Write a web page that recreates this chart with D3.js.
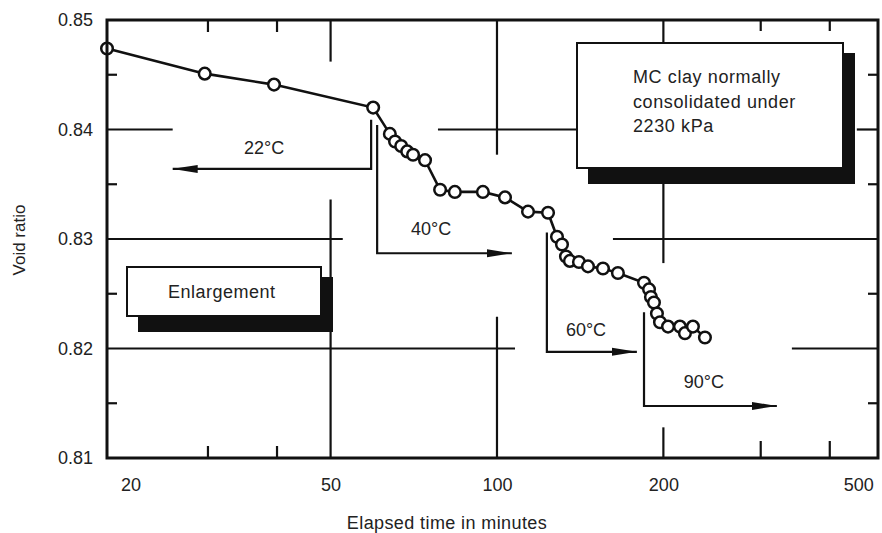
<!DOCTYPE html>
<html>
<head>
<meta charset="utf-8">
<script src="https://cdn.jsdelivr.net/npm/d3@7"></script>
<style>
  html, body { margin: 0; padding: 0; background: #fff; }
  svg { display: block; font-family: "Liberation Sans", Arial, sans-serif; }
</style>
</head>
<body>
<svg id="chart" width="882" height="533"></svg>
<script>
// ---- Data ----
const times = [19.7, 29.6, 39.5, 59.7, 64.0, 65.4, 67.1, 68.8, 70.5, 74.1, 78.9, 83.9, 94.3, 103.4, 113.8, 123.7,
               128.4, 131.1, 133.3, 135.5, 140.7, 146.1, 155.5, 165.5,
               184.5, 188.4, 189.9, 192.3, 194.7, 197.2, 203.9, 214.3, 218.8, 226.2, 237.8];
const voidRatios = [0.8474, 0.8451, 0.8441, 0.8420, 0.8396, 0.8389, 0.8385, 0.8380, 0.8377, 0.8372, 0.8345, 0.8343, 0.8343, 0.8338, 0.8325, 0.8324,
                    0.8302, 0.8295, 0.8284, 0.8280, 0.8279, 0.8275, 0.8273, 0.8269,
                    0.8260, 0.8254, 0.8247, 0.8242, 0.8232, 0.8224, 0.8220, 0.8220, 0.8214, 0.8220, 0.8210];
const xTickLabels = [20, 50, 100, 200, 500];
const yTickLabels = [0.81, 0.82, 0.83, 0.84, 0.85];
const xMinorTicks = [30, 40, 300, 400];
const yMinorTicks = [0.815, 0.825, 0.835, 0.845];
// temperature stages: label, bracket vertical time, top & bottom void, arrow tip time, label anchor
const stageLabels = ["22°C", "40°C", "60°C", "90°C"];
const stageStartTime = [59.2, 60.7, 123.1, 184.5];
const stageTopVoid = [0.8409, 0.8404, 0.8306, 0.8233];
const stageBottomVoid = [0.8364, 0.8287, 0.8197, 0.81475];
const stageTipTime = [25.9, 106.4, 179.1, 320.9];
const stageLabelTime = [37.9, 76.0, 144.9, 236.8];
const stageLabelVoid = [0.8378, 0.8304, 0.8211, 0.8164];
const noteLines = ["MC clay normally", "consolidated under", "2230 kPa"];
const enlargeText = "Enlargement";
// partial grid segments (data space)
const vGrid = [
  {t: 50, v1: 0.85, v2: 0.8462}, {t: 50, v1: 0.8336, v2: 0.81},
  {t: 100, v1: 0.85, v2: 0.8377}, {t: 100, v1: 0.8229, v2: 0.81},
  {t: 200, v1: 0.85, v2: 0.84}, {t: 200, v1: 0.8354, v2: 0.8278}, {t: 200, v1: 0.8128, v2: 0.81}
];
const hGrid = [
  {v: 0.84, t1: 19.7, t2: 25.9}, {v: 0.84, t1: 78.2, t2: 139.5}, {v: 0.84, t1: 447.7, t2: 489},
  {v: 0.83, t1: 19.7, t2: 52.6}, {v: 0.83, t1: 162.1, t2: 489},
  {v: 0.82, t1: 19.7, t2: 107.8}, {v: 0.82, t1: 341.6, t2: 489}
];

// ---- Layout ----
const L = 107, R = 878, T = 20, B = 458;
const svg = d3.select("#chart");
const x = d3.scaleLog().domain([19.7, 489]).range([L, R]);
const y = d3.scaleLinear().domain([0.81, 0.85]).range([B, T]);
const ink = "#111";
const txt = "#222";

// grid segments
svg.append("g").selectAll("line.vg").data(vGrid).join("line")
  .attr("x1", d => x(d.t)).attr("x2", d => x(d.t))
  .attr("y1", d => y(d.v1)).attr("y2", d => y(d.v2))
  .attr("stroke", ink).attr("stroke-width", 2.2);
svg.append("g").selectAll("line.hg").data(hGrid).join("line")
  .attr("x1", d => x(d.t1)).attr("x2", d => x(d.t2))
  .attr("y1", d => y(d.v)).attr("y2", d => y(d.v))
  .attr("stroke", ink).attr("stroke-width", 2.2);

// minor ticks
const mt = svg.append("g").attr("stroke", ink).attr("stroke-width", 2.2);
xMinorTicks.forEach(t => {
  const len = t < 100 ? 12 : 17;
  const lenTop = t < 100 ? 12 : 11;
  mt.append("line").attr("x1", x(t)).attr("x2", x(t)).attr("y1", B).attr("y2", B - len);
  mt.append("line").attr("x1", x(t)).attr("x2", x(t)).attr("y1", T).attr("y2", T + lenTop);
});
yMinorTicks.forEach(v => {
  mt.append("line").attr("x1", L).attr("x2", L + 10).attr("y1", y(v)).attr("y2", y(v));
  mt.append("line").attr("x1", R).attr("x2", R - 10).attr("y1", y(v)).attr("y2", y(v));
});

// arrowhead marker
const defs = svg.append("defs");
defs.append("marker").attr("id", "arr").attr("viewBox", "0 0 25 10")
  .attr("refX", 25).attr("refY", 5).attr("markerWidth", 25).attr("markerHeight", 10)
  .attr("markerUnits", "userSpaceOnUse").attr("orient", "auto")
  .append("path").attr("d", "M0,1 L25,5 L0,9 Z").attr("fill", ink);

// stage brackets
const stages = stageLabels.map((s, i) => ({
  label: s, t0: stageStartTime[i], vTop: stageTopVoid[i], vBot: stageBottomVoid[i],
  tip: stageTipTime[i], lt: stageLabelTime[i], lv: stageLabelVoid[i]
}));
const sg = svg.append("g");
stages.forEach(s => {
  sg.append("path")
    .attr("d", `M${x(s.t0)},${y(s.vTop)} L${x(s.t0)},${y(s.vBot)} L${x(s.tip)},${y(s.vBot)}`)
    .attr("fill", "none").attr("stroke", ink).attr("stroke-width", 2.2)
    .attr("marker-end", "url(#arr)");
  sg.append("text").attr("x", x(s.lt)).attr("y", y(s.lv))
    .attr("text-anchor", "middle").attr("font-size", 18).attr("fill", txt)
    .text(s.label);
});

// data line and points
const pts = times.map((t, i) => ({t, v: voidRatios[i]}));
svg.append("path").datum(pts)
  .attr("d", d3.line().x(d => x(d.t)).y(d => y(d.v)))
  .attr("fill", "none").attr("stroke", ink).attr("stroke-width", 2.6);
svg.append("g").selectAll("circle").data(pts).join("circle")
  .attr("cx", d => x(d.t)).attr("cy", d => y(d.v)).attr("r", 5.8)
  .attr("fill", "#fff").attr("stroke", ink).attr("stroke-width", 2.5);

// note box (MC clay)
const nb = svg.append("g");
nb.append("rect").attr("x", 588).attr("y", 53).attr("width", 267).attr("height", 131).attr("fill", ink);
nb.append("rect").attr("x", 577).attr("y", 43).attr("width", 266).attr("height", 125)
  .attr("fill", "#fff").attr("stroke", ink).attr("stroke-width", 2);
nb.selectAll("text").data(noteLines).join("text")
  .attr("x", 633).attr("y", (d, i) => 83 + i * 24.5)
  .attr("font-size", 18).attr("fill", txt).attr("letter-spacing", 0.6)
  .text(d => d);

// Enlargement box
const eb = svg.append("g");
eb.append("rect").attr("x", 138).attr("y", 277).attr("width", 195).attr("height", 55).attr("fill", ink);
eb.append("rect").attr("x", 127).attr("y", 267).attr("width", 194).attr("height", 49)
  .attr("fill", "#fff").attr("stroke", ink).attr("stroke-width", 2);
eb.append("text").attr("x", 168).attr("y", 298).attr("font-size", 18).attr("fill", txt)
  .attr("letter-spacing", 0.5).text(enlargeText);

// frame
svg.append("rect").attr("x", L).attr("y", T).attr("width", R - L).attr("height", B - T)
  .attr("fill", "none").attr("stroke", ink).attr("stroke-width", 3);

// axes (labels only)
const xAxis = svg.append("g").attr("transform", `translate(0,${B})`)
  .call(d3.axisBottom(x).tickValues(xTickLabels).tickSize(0).tickPadding(20).tickFormat(d3.format("d")));
xAxis.select(".domain").remove();
xAxis.selectAll("text").attr("font-size", 18).attr("fill", txt)
  .attr("font-family", "Liberation Sans, Arial, sans-serif")
  .attr("dx", d => d === 20 ? 20 : (d === 500 ? -25 : 0));

const yAxis = svg.append("g").attr("transform", `translate(${L},0)`)
  .call(d3.axisLeft(y).tickValues(yTickLabels).tickSize(0).tickPadding(14).tickFormat(d3.format(".2f")));
yAxis.select(".domain").remove();
yAxis.selectAll("text").attr("font-size", 18).attr("fill", txt)
  .attr("font-family", "Liberation Sans, Arial, sans-serif");

// axis titles
svg.append("text").attr("x", 447).attr("y", 529).attr("text-anchor", "middle")
  .attr("font-size", 18).attr("fill", txt).attr("letter-spacing", 0.4)
  .text("Elapsed time in minutes");
svg.append("text").attr("transform", "translate(25,240) rotate(-90)")
  .attr("text-anchor", "middle").attr("font-size", 17).attr("fill", txt)
  .text("Void ratio");
</script>
</body>
</html>
